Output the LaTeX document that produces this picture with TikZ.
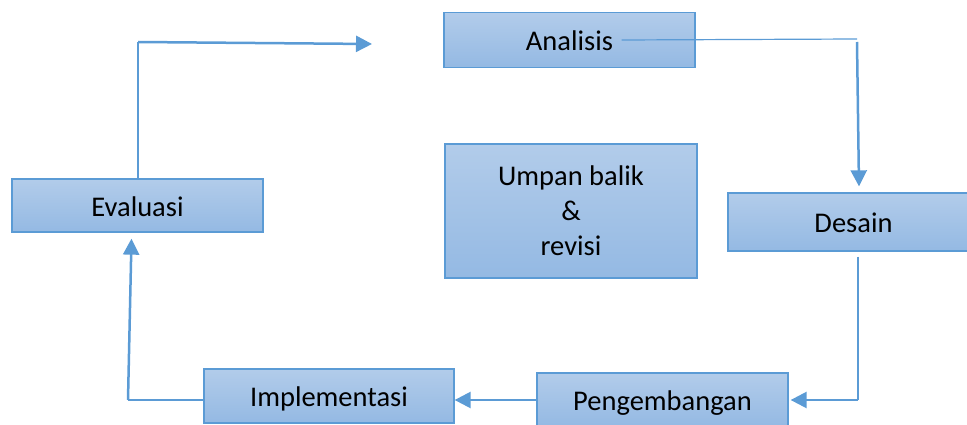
\documentclass[tikz,border=0pt]{standalone}
\usepackage{fontspec}
\setmainfont{Carlito}
\usetikzlibrary{arrows.meta}
\definecolor{officeblue}{RGB}{91,155,213}
\definecolor{boxtop}{RGB}{178,204,234}
\definecolor{boxbottom}{RGB}{148,185,227}
\tikzset{
  stage/.style={draw=officeblue, line width=1.3pt, top color=boxtop, bottom color=boxbottom,
    minimum width=251pt, minimum height=54pt, inner sep=0pt,
    text height=25.6pt, text depth=4.3pt, font=\fontsize{28.5}{35}\selectfont},
  thinln/.style={officeblue, line width=1.2pt},
  arrln/.style={officeblue, line width=2.5pt, -{Triangle[length=16pt,width=16pt]}}
}
\begin{document}
\begin{tikzpicture}[x=1pt,y=-1pt]
  \clip (0,0) rectangle (967,425);
  % stages
  \node[stage, minimum height=55pt] (ana) at (569.5,40) {Analisis};
  \node[stage, minimum height=58pt] (des) at (853.5,222) {Desain};
  \node[stage] (peng) at (662.5,400) {Pengembangan};
  \node[stage, minimum width=250pt] (imp) at (329,396) {Implementasi};
  \node[stage, minimum height=53pt] (eva) at (137.5,205.5) {Evaluasi};
  \node[stage, minimum width=252pt, minimum height=134pt, align=center,
        text height=, text depth=] (ump) at (571,211) {Umpan balik\\\&\\revisi};
  % bends
  \coordinate (a1) at (857,39);
  \coordinate (d1) at (858,400);
  \coordinate (i1) at (128,400);
  \coordinate (e1) at (138,42);
  \coordinate (e2) at (372,44);
  % connectors
  \draw[thinln] ([xshift=-74pt]ana.east) -- (a1);
  \draw[arrln] ([yshift=-3pt]a1) -- ([xshift=5.5pt,yshift=6pt]des.north);
  \draw[thinln] ([xshift=4.5pt,yshift=-5pt]des.south) -- (d1);
  \draw[arrln] (d1) -- ([xshift=2pt]peng.east |- d1);
  \draw[arrln] (peng.west |- d1) -- (imp.east |- d1);
  \draw[thinln] (imp.west |- i1) -- (i1);
  \draw[arrln] (i1) -- ([xshift=-6pt,yshift=-6pt]eva.south);
  \draw[thinln] (eva.north -| e1) -- (e1);
  \draw[arrln] (e1) -- (e2);
\end{tikzpicture}
\end{document}
